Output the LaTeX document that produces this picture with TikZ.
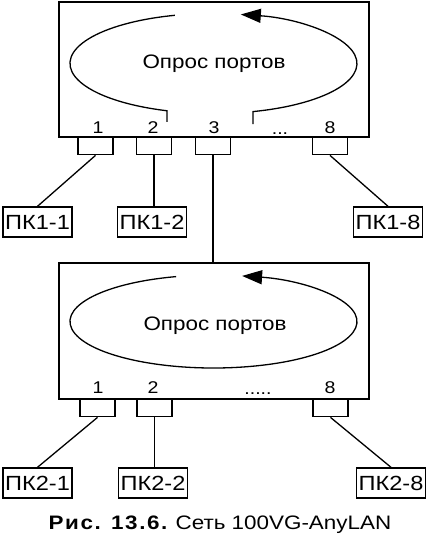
\documentclass[tikz,border=0pt]{standalone}
\usepackage{fontspec}
\setmainfont{Liberation Sans}[FakeStretch=1.15]
\usetikzlibrary{arrows.meta,positioning}

\begin{document}
\begin{tikzpicture}[
  x=1pt, y=-1pt,
  >={Triangle[length=20pt,width=14pt]},
  hub/.style={rectangle, draw, line width=1.6pt, minimum width=310pt, inner sep=0pt},
  port/.style={rectangle, draw, line width=1.4pt, minimum width=35pt, minimum height=17pt, inner sep=0pt, anchor=north},
  pc/.style={rectangle, draw, line width=1.4pt, minimum width=67pt, minimum height=30pt, inner sep=2pt, font=\fontsize{20.5}{23}\selectfont},
  num/.style={font=\fontsize{17}{20}\selectfont, inner sep=0pt, anchor=base},
  poll/.style={font=\fontsize{19.5}{22}\selectfont},
  loopline/.style={line width=1.3pt},
  wire/.style={line width=1.3pt}
]
\useasboundingbox (0,0) rectangle (427,544);

% first hub
\node[hub, minimum height=135pt] (hubA) at (214,69.5) {};
\node[poll] (pollA) at (214,64) {Опрос портов};
\draw[loopline,->] (253,124) -- (253,111.6)
  arc[start angle=74, end angle=-79, x radius=143.5, y radius=50];
\draw[loopline] (174.9,15.3)
  arc[start angle=-105.6, end angle=-251.1, x radius=143.5, y radius=50] -- ++(0,11);

\node[port] (a1) at (95.5,137) {};
\node[port] (a2) at (154,137) {};
\node[port] (a3) at (213,137) {};
\node[port] (a8) at (330,137) {};
\node[num] (na1) at (98,133) {1};
\node[num] (na2) at (153,133) {2};
\node[num] (na3) at (214,133) {3};
\node[num] (nadots) at (280,134) {...};
\node[num] (na8) at (330,133) {8};

\node[pc] (pc11) at (37.5,222) {ПК1-1};
\node[pc] (pc12) at (152,222) {ПК1-2};
\node[pc] (pc18) at (388,222) {ПК1-8};

\draw[wire] (a1.south) -- (pc11.north);
\draw[wire] (a2.south) -- (a2.south |- pc12.north);
\draw[wire] (a8.south) -- (pc18.north);

% second hub
\node[hub, minimum height=136pt] (hubB) at (214,331) {};
\draw[wire] (a3.south) -- (a3.south |- hubB.north);
\node[poll] (pollB) at (215,326) {Опрос портов};
\draw[loopline,->] (176.1,276.6)
  arc[start angle=254.9, end angle=-78.5, x radius=143.5, y radius=46.5];

\node[port] (b1) at (97.5,399) {};
\node[port] (b2) at (154.5,399) {};
\node[port] (b8) at (330.5,399) {};
\node[num] (nb1) at (98,393) {1};
\node[num] (nb2) at (153,393) {2};
\node[num] (nbdots) at (258,394) {.....};
\node[num] (nb8) at (330,393) {8};

\node[pc] (pc21) at (37.5,483) {ПК2-1};
\node[pc] (pc22) at (153,483) {ПК2-2};
\node[pc] (pc28) at (391,483) {ПК2-8};

\draw[wire] (b1.south) -- (pc21.north);
\draw[wire] (b2.south) -- (b2.south |- pc22.north);
\draw[wire] (b8.south) -- (pc28.north);

\node[font=\fontsize{19.5}{22}\selectfont] (caption) at (220,525)
  {{\bfseries\addfontfeatures{LetterSpace=8}Рис. 13.6.} Сеть 100VG-AnyLAN};
\end{tikzpicture}
\end{document}
